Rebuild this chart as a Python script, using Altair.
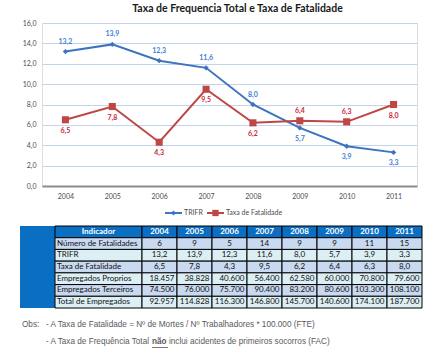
import json
import altair as alt
import pandas as pd

# ---------------- data ----------------
years = ["2004", "2005", "2006", "2007", "2008", "2009", "2010", "2011"]
trifr = [13.2, 13.9, 12.3, 11.6, 8.0, 5.7, 3.9, 3.3]
taxa_fatal = [6.5, 7.8, 4.3, 9.5, 6.2, 6.4, 6.3, 8.0]
num_fatal = [6, 9, 5, 14, 9, 9, 11, 15]
emp_proprios = [18457, 38828, 40600, 56400, 62580, 60000, 70800, 79600]
emp_terceiros = [74500, 76000, 75700, 90400, 83200, 80600, 103300, 108100]
total_emp = [92957, 114828, 116300, 146800, 145700, 140600, 174100, 187700]
series_names = ["TRIFR", "Taxa de Fatalidade"]
row_labels = ["Número de Fatalidades", "TRIFR", "Taxa de Fatalidade",
              "Empregados Proprios", "Empregados Terceiros", "Total de Empregados"]
y_ticks = [0, 2, 4, 6, 8, 10, 12, 14, 16]
title_text = "Taxa de Frequencia Total  e Taxa de Fatalidade"
note_obs = "Obs:"
note_1 = "- A Taxa de Fatalidade = Nº de Mortes / Nº Trabalhadores * 100.000  (FTE)"
note_2a = "- A Taxa de Frequência Total"
note_2b = "não"
note_2c = "inclui acidentes de primeiros socorros (FAC)"

# label placement (style): years where the value label sits above the point
trifr_label_above = ["2004", "2005", "2006", "2007", "2008"]
fatal_label_above = ["2009", "2010"]

# ---------------- styles ----------------
BLUE = "#3C74BF"
RED = "#BE4645"
LBL_BLUE = "#3F80D2"
LBL_RED = "#C8283C"
GRID = "#C3D4EC"
AXIS_TXT = "#4D4D4D"
FONT = "Lato"
HDR = "#0A6FC2"
ROW_A = "#C8D9F0"
ROW_B = "#DCEFF5"
series_colors = [BLUE, RED]
series_shapes = ["diamond", "square"]


def dec(v):
    return f"{v:.1f}".replace(".", ",")


def thou(v):
    return f"{v:,}".replace(",", ".")


# ---------------- line chart ----------------
rows = []
for s, vals in zip(series_names, [trifr, taxa_fatal]):
    for y, v in zip(years, vals):
        rows.append({"year": y, "series": s, "value": v, "label": dec(v)})
df = pd.DataFrame(rows)

above_expr = (
    f"(datum.series == '{series_names[0]}' && indexof({json.dumps(trifr_label_above)}, datum.year) >= 0) || "
    f"(datum.series == '{series_names[1]}' && indexof({json.dumps(fatal_label_above)}, datum.year) >= 0)"
)

x_enc = alt.X("year:N", scale=alt.Scale(type="point", padding=0.5, domain=years),
              axis=alt.Axis(title=None, labelAngle=0, ticks=False, domain=True,
                            domainColor="#8C8C8C", domainWidth=2, labelPadding=6,
                            labelFontSize=7, labelColor=AXIS_TXT, labelFont=FONT, grid=False))
y_enc = alt.Y("value:Q", scale=alt.Scale(domain=[0, 16], nice=False),
              axis=alt.Axis(title=None, values=y_ticks,
                            labelExpr="replace(format(datum.value, '.1f'), '.', ',')",
                            grid=True, gridColor=GRID, gridWidth=1, ticks=False, domain=False,
                            labelPadding=6, labelFontSize=7, labelColor=AXIS_TXT, labelFont=FONT))

base = alt.Chart(df)
col_enc = alt.Color("series:N", scale=alt.Scale(domain=series_names, range=series_colors), legend=None)

lines = base.mark_line(strokeWidth=2).encode(x=x_enc, y=y_enc, color=col_enc)
points = base.mark_point(filled=True, opacity=1).encode(
    x=x_enc, y=y_enc, color=col_enc,
    shape=alt.Shape("series:N", scale=alt.Scale(domain=series_names, range=series_shapes), legend=None),
    size=alt.Size("series:N", scale=alt.Scale(domain=series_names, range=[28, 50]), legend=None),
)
lbl_fill = alt.Fill("series:N", scale=alt.Scale(domain=series_names, range=[LBL_BLUE, LBL_RED]), legend=None)
text_above = base.transform_filter(above_expr).mark_text(
    dy=-10, fontSize=7, fontWeight="bold", font=FONT).encode(x=x_enc, y=y_enc, text="label:N", fill=lbl_fill)
text_below = base.transform_filter(f"!({above_expr})").mark_text(
    dy=11, fontSize=7, fontWeight="bold", font=FONT).encode(x=x_enc, y=y_enc, text="label:N", fill=lbl_fill)

chart_part = alt.layer(lines, points, text_above, text_below)

# ---------------- table ----------------
col_widths = [35, 87] + [35] * len(years)   # left blue block, indicator column, year columns
edges = [0]
for w in col_widths:
    edges.append(edges[-1] + w)

body = [
    (row_labels[0], [str(v) for v in num_fatal], "center"),
    (row_labels[1], [dec(v) for v in trifr], "center"),
    (row_labels[2], [dec(v) for v in taxa_fatal], "center"),
    (row_labels[3], [thou(v) for v in emp_proprios], "right"),
    (row_labels[4], [thou(v) for v in emp_terceiros], "right"),
    (row_labels[5], [thou(v) for v in total_emp], "right"),
]
cells = []
header = ["Indicador"] + years
for c, t in enumerate(header):
    x0, x1 = edges[c + 1], edges[c + 2]
    cells.append({"r": 0, "y0": 0, "y1": 1, "x0": x0, "x1": x1, "tx": (x0 + x1) / 2,
                  "ty": 0.5, "text": t, "fill": HDR, "kind": "header"})
for i, (lab, vals, al) in enumerate(body):
    r = i + 1
    fill = ROW_A if i % 2 == 0 else ROW_B
    x0, x1 = edges[1], edges[2]
    cells.append({"r": r, "y0": r, "y1": r + 1, "x0": x0, "x1": x1, "tx": x0 + 2,
                  "ty": r + 0.5, "text": lab, "fill": fill, "kind": "label"})
    for c, v in enumerate(vals):
        x0, x1 = edges[c + 2], edges[c + 3]
        tx = (x0 + x1) / 2 if al == "center" else x1 - 2.5
        cells.append({"r": r, "y0": r, "y1": r + 1, "x0": x0, "x1": x1, "tx": tx,
                      "ty": r + 0.5, "text": v, "fill": fill, "kind": al})
cells_df = pd.DataFrame(cells)
nrows = len(body) + 1
block_df = pd.DataFrame([{"x0": edges[0], "x1": edges[1], "y0": 0, "y1": nrows}])

tx_scale = alt.Scale(domain=[0, edges[-1]], range=[-22, 380], nice=False, zero=False)
ty_scale = alt.Scale(domain=[0, nrows], range=[203, 285], nice=False, zero=False)

block = alt.Chart(block_df).mark_rect(fill=HDR).encode(
    x=alt.X("x0:Q", scale=tx_scale, axis=None), x2="x1:Q",
    y=alt.Y("y0:Q", scale=ty_scale, axis=None), y2="y1:Q")
rects = alt.Chart(cells_df).mark_rect(stroke="black", strokeWidth=1).encode(
    x=alt.X("x0:Q", scale=tx_scale, axis=None), x2="x1:Q",
    y=alt.Y("y0:Q", scale=ty_scale, axis=None), y2="y1:Q",
    fill=alt.Fill("fill:N", scale=None))


def tbl_text(kind, align, color, weight):
    return alt.Chart(cells_df).transform_filter(f"datum.kind == '{kind}'").mark_text(
        align=align, baseline="middle", fontSize=8, font=FONT, color=color, fontWeight=weight
    ).encode(x=alt.X("tx:Q", scale=tx_scale, axis=None),
             y=alt.Y("ty:Q", scale=ty_scale, axis=None), text="text:N")


table_part = alt.layer(block, rects,
                       tbl_text("header", "center", "white", "bold"),
                       tbl_text("label", "left", "#111111", "normal"),
                       tbl_text("center", "center", "#111111", "normal"),
                       tbl_text("right", "right", "#111111", "normal"))

# ---------------- notes & legend ----------------
NOTE_C = "#5A5A5A"


def one(txt):
    return alt.Chart(pd.DataFrame({"t": [txt]}))


def note(txt, x, y, weight="normal"):
    return one(txt).mark_text(
        align="left", baseline="middle", font="Liberation Sans", fontSize=8.2,
        color=NOTE_C, fontWeight=weight).encode(x=alt.value(x), y=alt.value(y), text="t:N")


underline = one(note_2b).mark_rule(color=NOTE_C, strokeWidth=0.8).encode(
    x=alt.value(110), x2=alt.value(126), y=alt.value(324.5))

notes_part = alt.layer(note(note_obs, -20, 302), note(note_1, 4, 302),
                       note(note_2a, 4, 319), note(note_2b, 110, 319, "bold"),
                       note(note_2c, 127, 319), underline)

# manual legend (line stub + marker + label), positions are layout only
LEG_Y = 190
leg_layers = []
for name, colr, shp, size, x0 in zip(series_names, series_colors, series_shapes, [26, 40], [123, 165]):
    leg_layers.append(one(name).mark_rule(color=colr, strokeWidth=2).encode(
        x=alt.value(x0), x2=alt.value(x0 + 17), y=alt.value(LEG_Y)))
    leg_layers.append(one(name).mark_point(filled=True, opacity=1, color=colr, shape=shp, size=size).encode(
        x=alt.value(x0 + 8.5), y=alt.value(LEG_Y)))
    leg_layers.append(one(name).mark_text(align="left", baseline="middle", font=FONT, fontSize=7,
                                          color=AXIS_TXT).encode(
        x=alt.value(x0 + 19), y=alt.value(LEG_Y), text="t:N"))
legend_part = alt.layer(*leg_layers)

chart = alt.layer(chart_part, table_part, notes_part, legend_part).resolve_scale(
    x="independent", y="independent", fill="independent"
).properties(
    width=375, height=163,
    padding={"left": 42, "top": 23, "right": 20, "bottom": 170},
    autosize=alt.AutoSizeParams(type="none"),
    title=alt.TitleParams(title_text, font=FONT, fontSize=10.5, fontWeight="bold",
                          color="#1A1A1A", anchor="middle", dx=8, offset=5),
).configure_view(stroke=None).configure(background="white")

chart.save("out.html", embed_options={"renderer": "svg", "actions": False})
